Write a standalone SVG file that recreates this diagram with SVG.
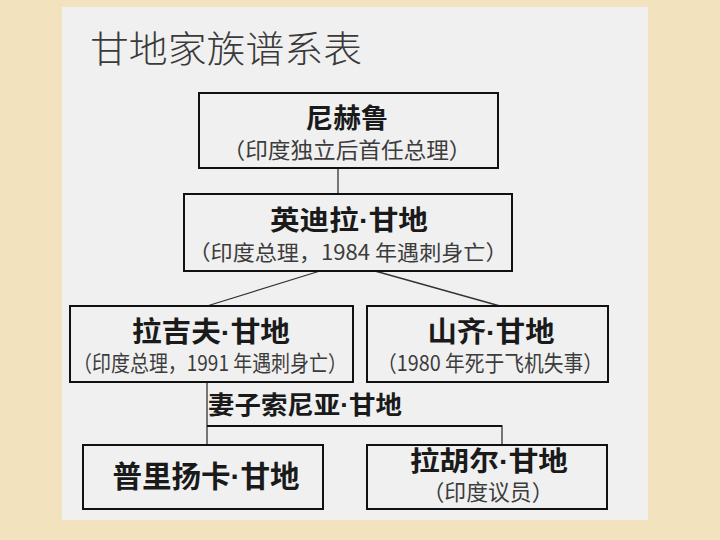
<svg xmlns="http://www.w3.org/2000/svg" width="720" height="540" viewBox="0 0 720 540">
  <defs>
    <style>
      .node rect { fill: #f0f0f0; stroke: #111; stroke-width: 2; }
      .t { font-family: "Noto Sans CJK SC", "Noto Sans", sans-serif; text-anchor: middle; fill: #1a1a1a; font-weight: 700; }
      .s { font-family: "Noto Sans CJK SC", "Noto Sans", sans-serif; text-anchor: middle; fill: #3c3c3c; font-weight: 400; }
      .d { font-family: "Liberation Sans", sans-serif; font-weight: 700; }
      .c line, .c polyline { fill: none; stroke: #333; stroke-width: 1.3; }
    </style>
  </defs>
  <rect x="0" y="0" width="720" height="540" fill="#f2e2bd"/>
  <rect x="62" y="7" width="586" height="513" fill="#f0f0f0"/>
  <text x="90" y="63" font-family="Noto Sans CJK SC, Noto Sans, sans-serif" font-size="37" fill="#3a3a3a" font-weight="300" textLength="272" lengthAdjust="spacingAndGlyphs">甘地家族谱系表</text>

  <g class="c" id="connectors">
    <line x1="338" y1="168" x2="338" y2="194"/>
    <line x1="320" y1="271" x2="207" y2="306"/>
    <line x1="375" y1="271" x2="500" y2="306"/>
    <line x1="207" y1="382" x2="207" y2="445"/>
    <polyline points="207,426 502,426 502,445" />
    <line x1="207" y1="426" x2="502" y2="426" style="stroke:#111;stroke-width:2"/>
  </g>

  <g class="node" id="nehru">
    <rect x="199" y="93" width="299" height="75"/>
    <text class="t" x="347" y="128" font-size="27" textLength="83" lengthAdjust="spacingAndGlyphs">尼赫鲁</text>
    <text class="s" x="347" y="158" font-size="22" textLength="249" lengthAdjust="spacingAndGlyphs">（印度独立后首任总理）</text>
  </g>

  <g class="node" id="indira">
    <rect x="184" y="194" width="328" height="77"/>
    <text class="t" x="349" y="230" font-size="27" textLength="158" lengthAdjust="spacingAndGlyphs">英迪拉<tspan class="d">·</tspan>甘地</text>
    <text class="s" x="348" y="260" font-size="21" textLength="319" lengthAdjust="spacingAndGlyphs">（印度总理，1984 年遇刺身亡）</text>
  </g>

  <g class="node" id="rajiv">
    <rect x="70" y="306" width="283" height="76"/>
    <text class="t" x="211" y="342" font-size="28" textLength="158" lengthAdjust="spacingAndGlyphs">拉吉夫<tspan class="d">·</tspan>甘地</text>
    <text class="s" x="210" y="371" font-size="22" textLength="274" lengthAdjust="spacingAndGlyphs">（印度总理，1991 年遇刺身亡）</text>
  </g>

  <g class="node" id="sanjay">
    <rect x="367" y="306" width="241" height="76"/>
    <text class="t" x="491" y="342" font-size="28" textLength="127" lengthAdjust="spacingAndGlyphs">山齐<tspan class="d">·</tspan>甘地</text>
    <text class="s" x="490" y="371" font-size="22" textLength="226" lengthAdjust="spacingAndGlyphs">（1980 年死于飞机失事）</text>
  </g>

  <g id="sonia">
    <text class="t" x="208" y="414" font-size="25" style="text-anchor:start" textLength="194" lengthAdjust="spacingAndGlyphs">妻子索尼亚<tspan class="d">·</tspan>甘地</text>
  </g>

  <g class="node" id="priyanka">
    <rect x="83" y="445" width="240" height="64"/>
    <text class="t" x="206" y="487" font-size="30" textLength="187" lengthAdjust="spacingAndGlyphs">普里扬卡<tspan class="d">·</tspan>甘地</text>
  </g>

  <g class="node" id="rahul">
    <rect x="367" y="445" width="240" height="64"/>
    <text class="t" x="489" y="471" font-size="27" textLength="158" lengthAdjust="spacingAndGlyphs">拉胡尔<tspan class="d">·</tspan>甘地</text>
    <text class="s" x="488" y="500" font-size="22" textLength="131" lengthAdjust="spacingAndGlyphs">（印度议员）</text>
  </g>
</svg>
